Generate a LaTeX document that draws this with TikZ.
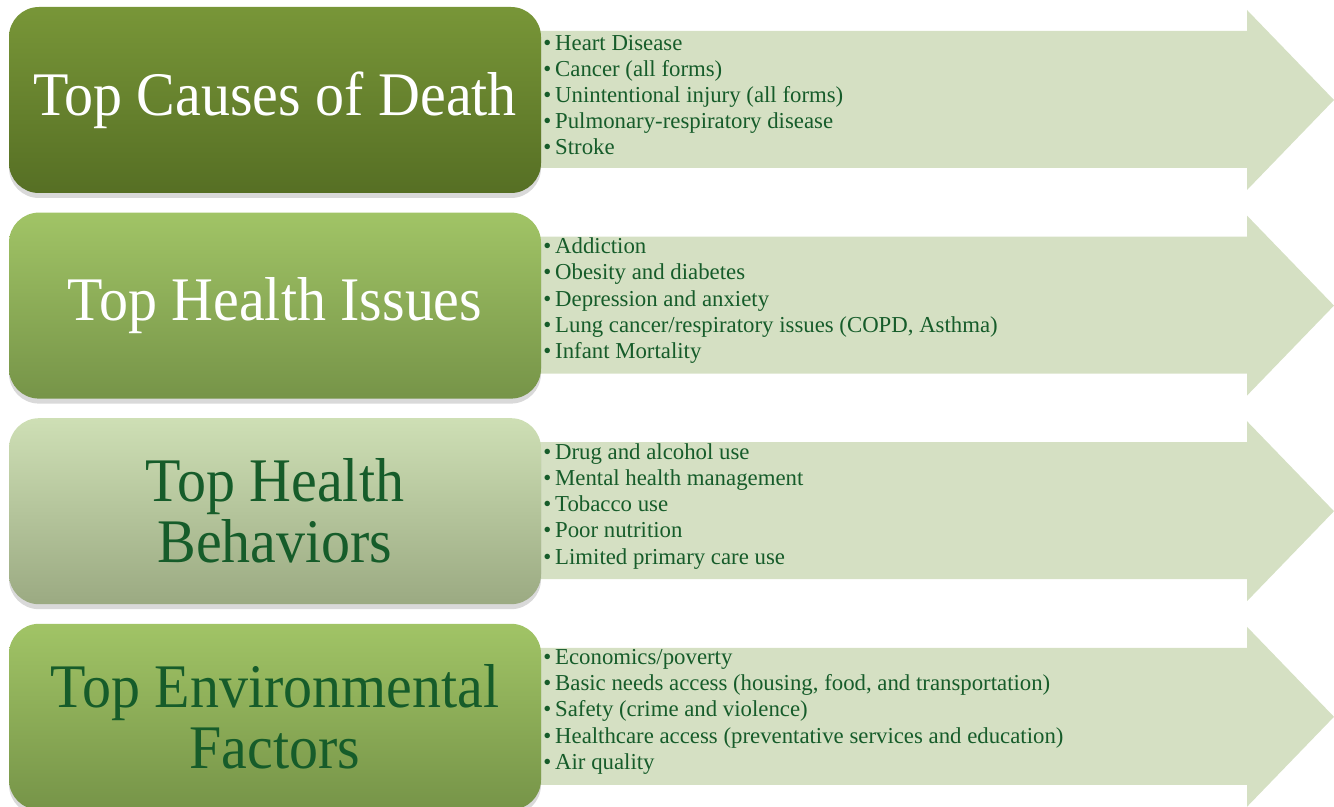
\documentclass[tikz,border=0pt]{standalone}
\usepackage{fontspec}
\setmainfont{Liberation Serif}
\newfontfamily\titlefont[FakeStretch=0.935]{Liberation Serif}
\usepackage{xcolor}
\usetikzlibrary{shadows}
\definecolor{arrowgreen}{RGB}{213,224,195}
\definecolor{listgreen}{RGB}{22,92,42}
\definecolor{deathtop}{RGB}{120,150,56}
\definecolor{deathbot}{RGB}{86,111,36}
\definecolor{midtop}{RGB}{161,196,102}
\definecolor{midbot}{RGB}{118,148,72}
\definecolor{paletop}{RGB}{206,223,181}
\definecolor{palebot}{RGB}{155,170,130}

\begin{document}
\begin{tikzpicture}[x=0.5pt,y=-0.5pt]
\tikzset{
  titlebox/.style={rectangle, rounded corners=15pt, minimum width=266pt, minimum height=93pt,
    align=center, font=\titlefont\fontsize{31}{30.5}\selectfont,
    drop shadow={opacity=0.3, shadow xshift=0pt, shadow yshift=-2.5pt}},
  listtext/.style={anchor=west, align=left, inner sep=0pt, text=listgreen,
    font=\fontsize{11.4}{13.1}\selectfont}
}
\useasboundingbox (0,0) rectangle (1334,807);
\foreach \r in {7,212.6,418.2,623.8}
  \fill[arrowgreen] (535,\r+24) -- (1247,\r+24) -- (1247,\r+3) -- (1334,\r+93)
    -- (1247,\r+183) -- (1247,\r+161) -- (535,\r+161) -- cycle;
\node[titlebox, top color=deathtop, bottom color=deathbot, text=white] (death) at (275,100) {Top Causes of Death};
\node[titlebox, top color=midtop, bottom color=midbot, text=white] (issues) at (275,305.6) {Top Health Issues};
\node[titlebox, top color=paletop, bottom color=palebot, text=listgreen] (behave) at (275,511.2) {Top Health\\Behaviors};
\node[titlebox, top color=midtop, bottom color=midbot, text=listgreen] (envir) at (275,716.8) {Top Environmental\\Factors};
\node[listtext] (deathlist) at (543,95) {\textbullet\,Heart Disease\\\textbullet\,Cancer (all forms)\\
  \textbullet\,Unintentional injury (all forms)\\\textbullet\,Pulmonary-respiratory disease\\\textbullet\,Stroke};
\node[listtext] (issuelist) at (543,300.6) {\textbullet\,Addiction\\\textbullet\,Obesity and diabetes\\
  \textbullet\,Depression and anxiety\\\textbullet\,Lung cancer/respiratory issues (COPD, Asthma)\\\textbullet\,Infant Mortality};
\node[listtext] (behavelist) at (543,506.2) {\textbullet\,Drug and alcohol use\\\textbullet\,Mental health management\\
  \textbullet\,Tobacco use\\\textbullet\,Poor nutrition\\\textbullet\,Limited primary care use};
\node[listtext] (envirlist) at (543,711.8) {\textbullet\,Economics/poverty\\\textbullet\,Basic needs access (housing, food, and transportation)\\
  \textbullet\,Safety (crime and violence)\\\textbullet\,Healthcare access (preventative services and education)\\\textbullet\,Air quality};
\end{tikzpicture}
\end{document}
